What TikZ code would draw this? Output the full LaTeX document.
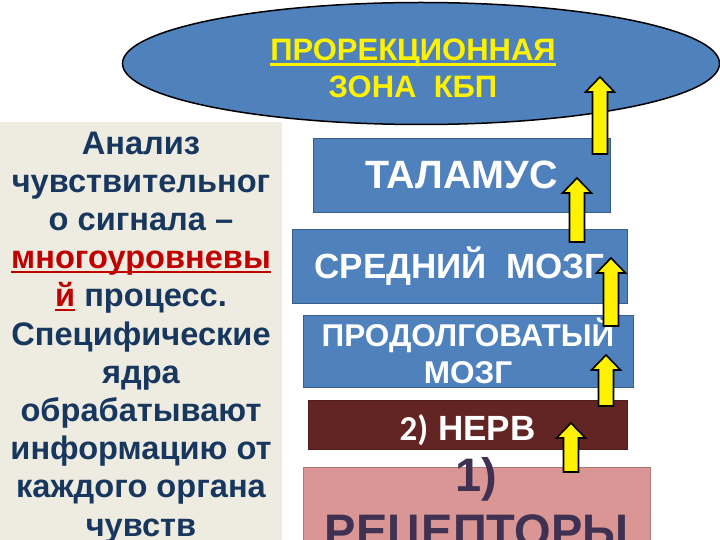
\documentclass[tikz,border=0pt]{standalone}
\usepackage{fontspec}
\setmainfont{Liberation Sans}
\newfontfamily\calfont{Carlito}
\usetikzlibrary{shapes.geometric}

\definecolor{lvlblue}{HTML}{4F81BD}
\definecolor{lvledge}{HTML}{385D8A}
\definecolor{nervefill}{HTML}{632523}
\definecolor{recfill}{HTML}{D99694}
\definecolor{rectext}{HTML}{403152}
\definecolor{panelbg}{HTML}{EEECE1}
\definecolor{infotext}{HTML}{17375E}
\definecolor{hired}{HTML}{C00000}

% thick underline
\newcommand{\ulbar}[2][-5pt]{\setbox0=\hbox{#2}\rlap{\rule[#1]{\wd0}{2.4pt}}\box0}

\begin{document}
\begin{tikzpicture}[x=1pt,y=-1pt,
  level/.style={draw=lvledge, line width=0.8pt, fill=lvlblue, text=white, inner sep=0pt, align=center},
  arr/.style={draw=black, fill=yellow, line width=1.6pt, line join=miter}]
\useasboundingbox (0,0) rectangle (720,540);

% left panel
\fill[panelbg] (0,122) rectangle (282,540);
\node[anchor=north, align=center, inner sep=0pt, text=infotext,
      font=\fontsize{32.6}{38.2}\selectfont\bfseries] (info) at (141,131.5)
  {Анализ\\ чувствительног\\ о сигнала --\\
   {\color{hired}\ulbar[-4.5pt]{многоуровневы}}\\
   {\color{hired}\ulbar[-4.5pt]{й}} процесс.\\ Специфические\\ ядра\\
   обрабатывают\\ информацию от\\ каждого органа\\ чувств};

% projection zone
\node[ellipse, draw=black, line width=1.5pt, fill=lvlblue, minimum width=597pt,
      minimum height=122pt, inner sep=0pt] (zone) at (421,63.5) {};
\node[align=center, text=yellow, font=\fontsize{31}{37}\selectfont\bfseries]
  (zonetxt) at ([xshift=-8pt,yshift=-5pt]zone.center) {\ulbar{ПРОРЕКЦИОННАЯ}\\ ЗОНА~~КБП};

% levels
\node[level, minimum width=297pt, minimum height=74pt,
      font=\fontsize{39.5}{42}\selectfont\bfseries] (thal) at (461.5,175) {ТАЛАМУС};
\node[level, minimum width=335pt, minimum height=74pt,
      font=\fontsize{35}{40}\selectfont\bfseries] (mid) at (459.5,266) {СРЕДНИЙ~~МОЗГ};
\node[level, minimum width=330pt, minimum height=72pt,
      font=\fontsize{31.5}{37}\selectfont\bfseries] (med) at (468,351) {ПРОДОЛГОВАТЫЙ\\ МОЗГ};
\node[level, draw=nervefill!80!black, fill=nervefill, minimum width=319pt, minimum height=49pt,
      text height=31pt, text depth=0pt,
      font=\fontsize{35}{38}\selectfont\bfseries] (nerve) at (467.5,424.5) {{\calfont 2)} НЕРВ};
\node[level, draw=recfill!80!black, fill=recfill, minimum width=347pt,
      minimum height=106pt] (rec) at (476.5,520) {};
\node[anchor=north, align=center, inner sep=0pt, text=rectext,
      font=\fontsize{47}{56}\selectfont\bfseries] (rectxt) at (476.5,457.5) {1)\\ РЕЦЕПТОРЫ};

% arrows
\foreach \x/\t/\b in {600/77/154, 577/178/242, 611/258/326, 606/355/406, 571/423/472} {
  \draw[arr] (\x-7.5,\b) -- (\x+7.5,\b) -- (\x+7.5,\t+15) -- (\x+14.5,\t+15)
    -- (\x,\t) -- (\x-14.5,\t+15) -- (\x-7.5,\t+15) -- cycle;
}
\end{tikzpicture}
\end{document}
